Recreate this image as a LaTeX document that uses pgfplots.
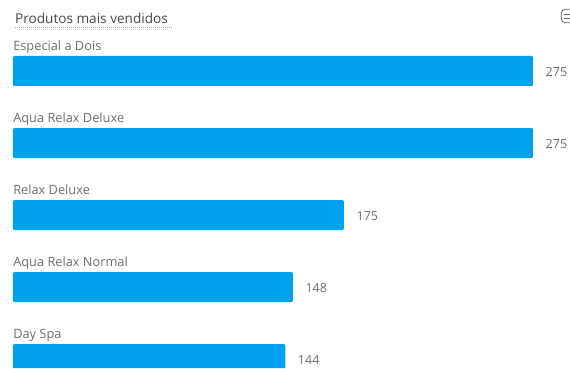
\documentclass[border=0pt]{standalone}
\usepackage{pgfplots}
\usepackage{fontspec}
\setmainfont{Open Sans}
\pgfplotsset{compat=1.18}
\definecolor{barblue}{HTML}{00A2F0}
\definecolor{labelgray}{HTML}{6E6E6E}
\begin{document}
\begin{tikzpicture}[x=1pt,y=1pt]
\useasboundingbox (0,0) rectangle (427.5,276);
\begin{axis}[
  at={(0,0)}, anchor=south west,
  scale only axis, width=427.5pt, height=276pt,
  axis lines=none,
  y dir=reverse,
  xmin=-6.875, xmax=294.6,
  ymin=-0.986, ymax=4.125,
  xbar, bar width=22.5pt,
  clip=true,
  /pgf/number format/assume math mode=true,
  nodes near coords,
  every node near coord/.append style={font=\fontsize{9.4}{11}\selectfont, text=labelgray, xshift=6pt, yshift=-1pt},
  clip mode=individual,
]
\addplot[fill=barblue, draw=none, rounded corners=0.9pt] coordinates {
  (275,0) (275,1) (175,2) (148,3) (144,4)
};
% category captions above each bar
\foreach \i/\name in {0/Especial a Dois,1/Aqua Relax Deluxe,2/Relax Deluxe,3/Aqua Relax Normal,4/Day Spa}{
  \edef\temp{\noexpand\node[anchor=base west, inner sep=0pt, font=\noexpand\fontsize{9.6}{11}\noexpand\selectfont, text=labelgray] at (axis cs:0,\i) [yshift=15.6pt] {\name};}
  \temp
}
\end{axis}
% chart title with its dotted underline
\node[anchor=base west, inner sep=0pt, font=\fontsize{10.2}{12}\selectfont, text=black!72] at (11.2,276-17.5) {Produtos mais vendidos};
\draw[black!35, line width=0.4pt, dash pattern=on 0.6pt off 0.9pt] (11.2,276-20.4) -- (129,276-20.4);
% header icon
\draw[black!60, line width=0.6pt, rounded corners=3pt] (420.9,276-17) rectangle (432,276-7);
\draw[black!60, line width=0.5pt] (423.2,276-10.4) -- (429,276-10.4) (423.2,276-13.4) -- (429,276-13.4);
\end{tikzpicture}
\end{document}
